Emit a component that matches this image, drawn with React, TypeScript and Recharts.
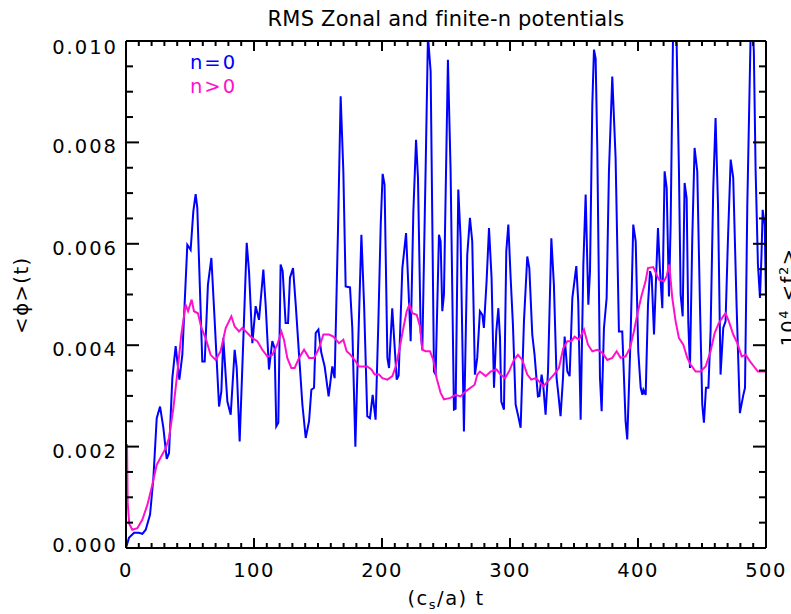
import React from 'react';
import { LineChart, Line, XAxis, YAxis } from 'recharts';

// ---- data (phi values in units of 1e-3) ----
const blueT = [0,2.3,6.3,10,12.8,15.4,18.8,21.4,24,26.6,29.2,31.8,33.6,36.2,38.8,41.7,44,47.9,50.5,52.6,54.4,55.7,59.6,61.5,64,66.7,69.3,72.7,74.5,76,79.2,81.8,84.9,86.5,88.8,91.7,94.3,96.1,98.7,101.3,103.9,107.3,109.1,111.7,114.3,116.1,117.4,119,120.8,122.4,124.7,126.6,128.1,130.5,132.6,135.2,137.8,140.4,143,144.8,146.9,148.2,150.3,152.6,155.2,158.3,161.2,163,165.6,167.7,169.8,171.6,175,176.8,179.2,180.7,183.9,186,188.5,190.6,192.7,195,197.1,199,200.5,202,204.2,205.5,208,211.5,213,215.9,218.8,221.2,222.4,224.5,226.6,228.1,230.2,231.5,234.1,235.9,238,240.6,241.9,244.5,245.8,247.1,248.4,251.5,253.6,256.2,257.5,259.6,261.4,264,266.6,268.7,270.5,272.6,274.4,276.5,278.4,279.6,281.7,283.6,285.6,287.5,289.3,290.9,292.2,293.2,295.3,297.1,298.7,300.5,302.3,304.4,306.2,308.3,310.9,313.5,315.1,317.4,319.2,321.8,323,324.7,326,327.8,329.7,332.3,334.3,336.4,337.5,339.5,341.4,342.7,344.8,346.6,348.7,351.8,353.3,355.2,357.3,359.1,361.2,362.5,364.3,365.6,366.9,368.2,370.3,371.6,373.4,375.5,377.3,379.9,382.5,385.1,387.7,390.3,391.6,394.2,396.3,398.2,400.2,402.1,403.4,404.2,406,407.8,409.4,410.7,412.5,414.3,415.6,417.2,419,420.8,422.4,424.2,425.5,427.6,430.2,432,433.3,434.9,436.4,438,439.3,440.6,442.4,444.2,446.3,448.4,450.2,451.5,453.1,455,456.7,458.8,460.6,462.5,464.5,466.6,468.4,470.3,472.4,474.4,477,479.6,482.3,483.6,485.4,488.5,490.5,491.9,493.7,495.3,496.5,497.4,499,500];
const blueV = [0,0.2,0.3,0.3,0.28,0.36,0.66,1.38,2.56,2.79,2.37,1.76,1.87,3.35,3.98,3.32,3.81,5.98,5.88,6.64,6.98,6.71,3.68,3.68,5.19,5.72,4.47,2.79,3.09,4.14,2.89,2.63,3.91,3.55,2.1,4.14,6.02,5.46,4.04,4.77,4.5,5.49,4.8,3.52,4.08,3.94,2.4,2.47,5.59,5.46,4.44,4.44,5.33,5.52,4.8,3.81,2.83,2.17,2.5,3.12,3.16,4.24,4.31,3.85,3.58,2.99,3.58,3.35,6.25,8.91,7.43,5.16,5.14,4.34,2.0,3.42,6.18,4.8,2.6,2.56,3.02,2.53,4.4,6.38,7.38,7.17,3.75,3.55,4.73,3.32,3.4,5.52,6.21,4.8,4.08,6.64,8.05,7.3,4.27,3.91,7.5,10.1,9.4,3.48,3.42,6.18,6.05,4.67,5.0,9.63,7.43,2.73,2.75,7.07,6.11,2.3,5.78,6.51,6.05,3.42,3.75,4.67,4.6,4.34,5.26,6.31,5.33,3.16,4.27,4.73,4.14,2.89,2.73,5.85,6.38,5.33,4.4,2.83,2.63,2.37,4.47,5.75,5.52,4.21,3.81,2.99,3.0,3.42,3.2,2.63,3.48,6.11,5.19,3.35,3.1,2.6,3.35,4.17,3.48,3.39,4.93,5.56,4.86,2.53,5.59,6.97,4.8,5.46,8.74,9.83,9.66,7.89,3.35,2.7,4.34,4.93,7.43,9.3,7.69,4.27,4.27,2.5,2.14,4.14,6.38,6.05,3.88,3.16,3.02,3.12,3.02,4.8,5.46,5.35,4.21,5.46,6.31,5.46,4.73,7.43,7.1,4.96,6.38,10.6,9.93,7.43,5.0,4.57,7.2,6.9,4.44,3.55,6.11,7.89,7.43,4.8,2.83,2.47,3.16,3.16,4.27,7.1,8.48,6.77,3.42,4.34,4.47,6.11,7.66,7.3,4.8,2.66,3.02,3.16,6.77,10.8,9.8,7.43,5.59,4.93,5.8,6.67,6.37,4.9];

const magT = [0.8,1.3,2.5,4.9,8.9,12.8,16.7,20.6,24,27.6,31,33.6,37,40.1,43.2,46.6,48.5,49.7,51.3,53.1,56.2,58.9,62.2,66.1,70,73.9,77.9,82.3,84.9,88.3,90.9,94.8,98.7,102.6,106.5,110.4,114.3,118.2,121.4,123.4,126,129.2,131.8,135.2,139.1,143,146.9,150.8,154.2,158.6,162,166.4,169.8,172.4,175.5,179.4,182,185.4,188.5,191.7,194.3,197.7,200.3,204.2,208.1,210.7,213.3,216.7,219.3,221.4,223.7,227.1,229.7,231.5,234.1,237.5,240.1,242.7,245.8,248.4,253.6,257.5,261.4,265.3,269.2,272.4,274.4,276.5,281,284.9,289.5,292.7,296.1,299.2,303.1,306.2,309.6,313.5,316.6,320,322.6,326,329.7,334.3,338.2,341.6,344.8,347.9,350.5,353.9,357.8,360.9,364.3,368.2,372.1,376,379.9,383.3,386.4,390.3,393.7,396.8,399.4,402.6,405.9,407.8,411.9,416.4,420.3,422.4,424.4,426.8,429.4,432,435.4,438.5,441.1,445,448.9,452.8,456.7,459.9,463.2,466.6,468.4,471,474.4,477.6,481,484.1,487.5,490.6,493.7,497.9,500];
const magV = [2.05,0.9,0.48,0.36,0.39,0.56,0.85,1.25,1.64,1.81,1.97,2.17,2.76,3.45,4.21,4.8,4.67,4.77,4.9,4.67,4.63,4.34,4.14,3.81,3.71,3.88,4.34,4.57,4.37,4.27,4.34,4.24,4.14,4.08,3.91,3.78,3.81,4.01,4.27,4.11,3.75,3.55,3.55,3.75,3.91,3.75,3.75,3.94,4.21,4.21,4.17,4.04,4.11,3.88,3.81,3.68,3.58,3.58,3.58,3.52,3.42,3.42,3.35,3.32,3.39,3.58,3.88,4.34,4.67,4.8,4.63,4.6,4.37,3.91,3.88,3.88,3.71,3.35,3.06,2.93,2.96,3.02,2.99,3.09,3.16,3.22,3.42,3.48,3.39,3.48,3.52,3.42,3.35,3.48,3.71,3.81,3.71,3.42,3.32,3.35,3.29,3.19,3.29,3.42,3.55,3.94,4.08,4.08,4.17,4.11,4.31,4.01,3.88,3.91,3.85,3.71,3.75,3.88,3.75,3.78,3.94,4.27,4.6,4.96,5.26,5.52,5.54,5.29,5.26,5.36,5.59,4.93,4.47,4.14,4.01,3.75,3.62,3.48,3.48,3.58,3.88,4.24,4.44,4.57,4.63,4.47,4.21,4.04,3.78,3.81,3.68,3.58,3.48,3.48,3.48];

const xMajorTicks = [0, 100, 200, 300, 400, 500];
const yMajorTicks = [0, 0.002, 0.004, 0.006, 0.008, 0.010];
const yMajorLabels = ['0.000', '0.002', '0.004', '0.006', '0.008', '0.010'];
const xMinorStep = 10;
const yMinorStep = 0.0005;

const blueData = blueT.map((t, i) => ({ t, v: blueV[i] * 1e-3 }));
const magData = magT.map((t, i) => ({ t, v: magV[i] * 1e-3 }));

const xTicks = Array.from({ length: 500 / xMinorStep + 1 }, (_, i) => i * xMinorStep);
const yTicks = Array.from({ length: 21 }, (_, i) => Math.round(i * yMinorStep * 1e5) / 1e5);

const FONT = '"DejaVu Sans", sans-serif';
const majorXIndex = (v: number) => xMajorTicks.findIndex((m) => Math.abs(m - v) < 1e-6);
const majorYIndex = (v: number) => yMajorTicks.findIndex((m) => Math.abs(m - v) < 1e-9);

const BottomTick = (p: any) => {
  const { x, y, payload } = p;
  const major = majorXIndex(payload.value) >= 0;
  return (
    <g>
      <line x1={x} y1={y} x2={x} y2={y - (major ? 10 : 5)} stroke="#000" strokeWidth={2} />
      {major && (
        <text x={x} y={y + 29} textAnchor="middle" fontFamily={FONT} fontSize={19.5} letterSpacing={1.5} fill="#000">
          {payload.value}
        </text>
      )}
    </g>
  );
};
const TopTick = (p: any) => {
  const { x, y, payload } = p;
  const major = majorXIndex(payload.value) >= 0;
  return <line x1={x} y1={y} x2={x} y2={y + (major ? 10 : 5)} stroke="#000" strokeWidth={2} />;
};
const LeftTick = (p: any) => {
  const { x, y, payload } = p;
  const idx = majorYIndex(payload.value);
  const major = idx >= 0;
  const shift = idx === 0 ? -3 : idx === yMajorTicks.length - 1 ? 6 : 4;
  return (
    <g>
      <line x1={x} y1={y} x2={x + (major ? 13 : 7)} y2={y} stroke="#000" strokeWidth={2} />
      {major && (
        <text x={x - 8} y={y + shift + 7} textAnchor="end" fontFamily={FONT} fontSize={19.5} letterSpacing={2} fill="#000">
          {yMajorLabels[idx]}
        </text>
      )}
    </g>
  );
};
const RightTick = (p: any) => {
  const { x, y, payload } = p;
  const major = majorYIndex(payload.value) >= 0;
  return <line x1={x} y1={y} x2={x - (major ? 13 : 7)} y2={y} stroke="#000" strokeWidth={2} />;
};

export default function App() {
  return (
    <div style={{ position: 'absolute', left: 0, top: 0, width: 791, height: 614, background: '#fff' }}>
      <LineChart width={791} height={614} margin={{ top: 11, right: 0, bottom: 36, left: 66 }}>
        <XAxis xAxisId="b" dataKey="t" type="number" domain={[0, 500]} ticks={xTicks} interval={0}
          orientation="bottom" height={30} tickSize={0} tickMargin={0} tickLine={false}
          axisLine={{ stroke: '#000', strokeWidth: 2 }} tick={<BottomTick />} allowDataOverflow />
        <XAxis xAxisId="t" dataKey="t" type="number" domain={[0, 500]} ticks={xTicks} interval={0}
          orientation="top" height={30} tickSize={0} tickMargin={0} tickLine={false}
          axisLine={{ stroke: '#000', strokeWidth: 2 }} tick={<TopTick />} allowDataOverflow />
        <YAxis yAxisId="l" type="number" domain={[0, 0.01]} ticks={yTicks} interval={0}
          orientation="left" width={60} tickSize={0} tickMargin={0} tickLine={false}
          axisLine={{ stroke: '#000', strokeWidth: 2 }} tick={<LeftTick />} allowDataOverflow />
        <YAxis yAxisId="r" type="number" domain={[0, 0.01]} ticks={yTicks} interval={0}
          orientation="right" width={25} tickSize={0} tickMargin={0} tickLine={false}
          axisLine={{ stroke: '#000', strokeWidth: 2 }} tick={<RightTick />} allowDataOverflow />
        <Line xAxisId="b" yAxisId="l" data={blueData} dataKey="v" type="linear" stroke="#0000ff"
          strokeWidth={2} dot={false} isAnimationActive={false} />
        <Line xAxisId="b" yAxisId="l" data={magData} dataKey="v" type="linear" stroke="#ff10cc"
          strokeWidth={2} dot={false} isAnimationActive={false} />
      </LineChart>
      <svg width={791} height={614} style={{ position: 'absolute', left: 0, top: 0, pointerEvents: 'none' }}>
        <text x={446} y={26} textAnchor="middle" fontFamily={FONT} fontSize={21} letterSpacing={0.2} fill="#000">
          RMS Zonal and finite-n potentials
        </text>
        <text x={446} y={605} textAnchor="middle" fontFamily={FONT} fontSize={19.5} letterSpacing={1.5} fill="#000">
          (c<tspan fontSize={13} dy={4}>s</tspan><tspan dy={-4}>/a) t</tspan>
        </text>
        <text x={28} y={295} textAnchor="middle" transform="rotate(-90, 28, 295)" fontFamily={FONT} fontSize={19.5} letterSpacing={1.5} fill="#000">
          &lt;ϕ&gt;(t)
        </text>
        <text x={795} y={297} textAnchor="middle" transform="rotate(-90, 795, 297)" fontFamily={FONT} fontSize={19.5} letterSpacing={1.5} fill="#000">
          10<tspan fontSize={13} dy={-7}>4</tspan><tspan dy={7}> &lt;f</tspan><tspan fontSize={13} dy={-7}>2</tspan><tspan dy={7}>&gt;</tspan>
        </text>
        <text x={190} y={69} fontFamily={FONT} fontSize={19.5} letterSpacing={2} fill="#0000ff">n=0</text>
        <text x={190} y={93} fontFamily={FONT} fontSize={19.5} letterSpacing={2} fill="#ff10cc">n&gt;0</text>
      </svg>
    </div>
  );
}
